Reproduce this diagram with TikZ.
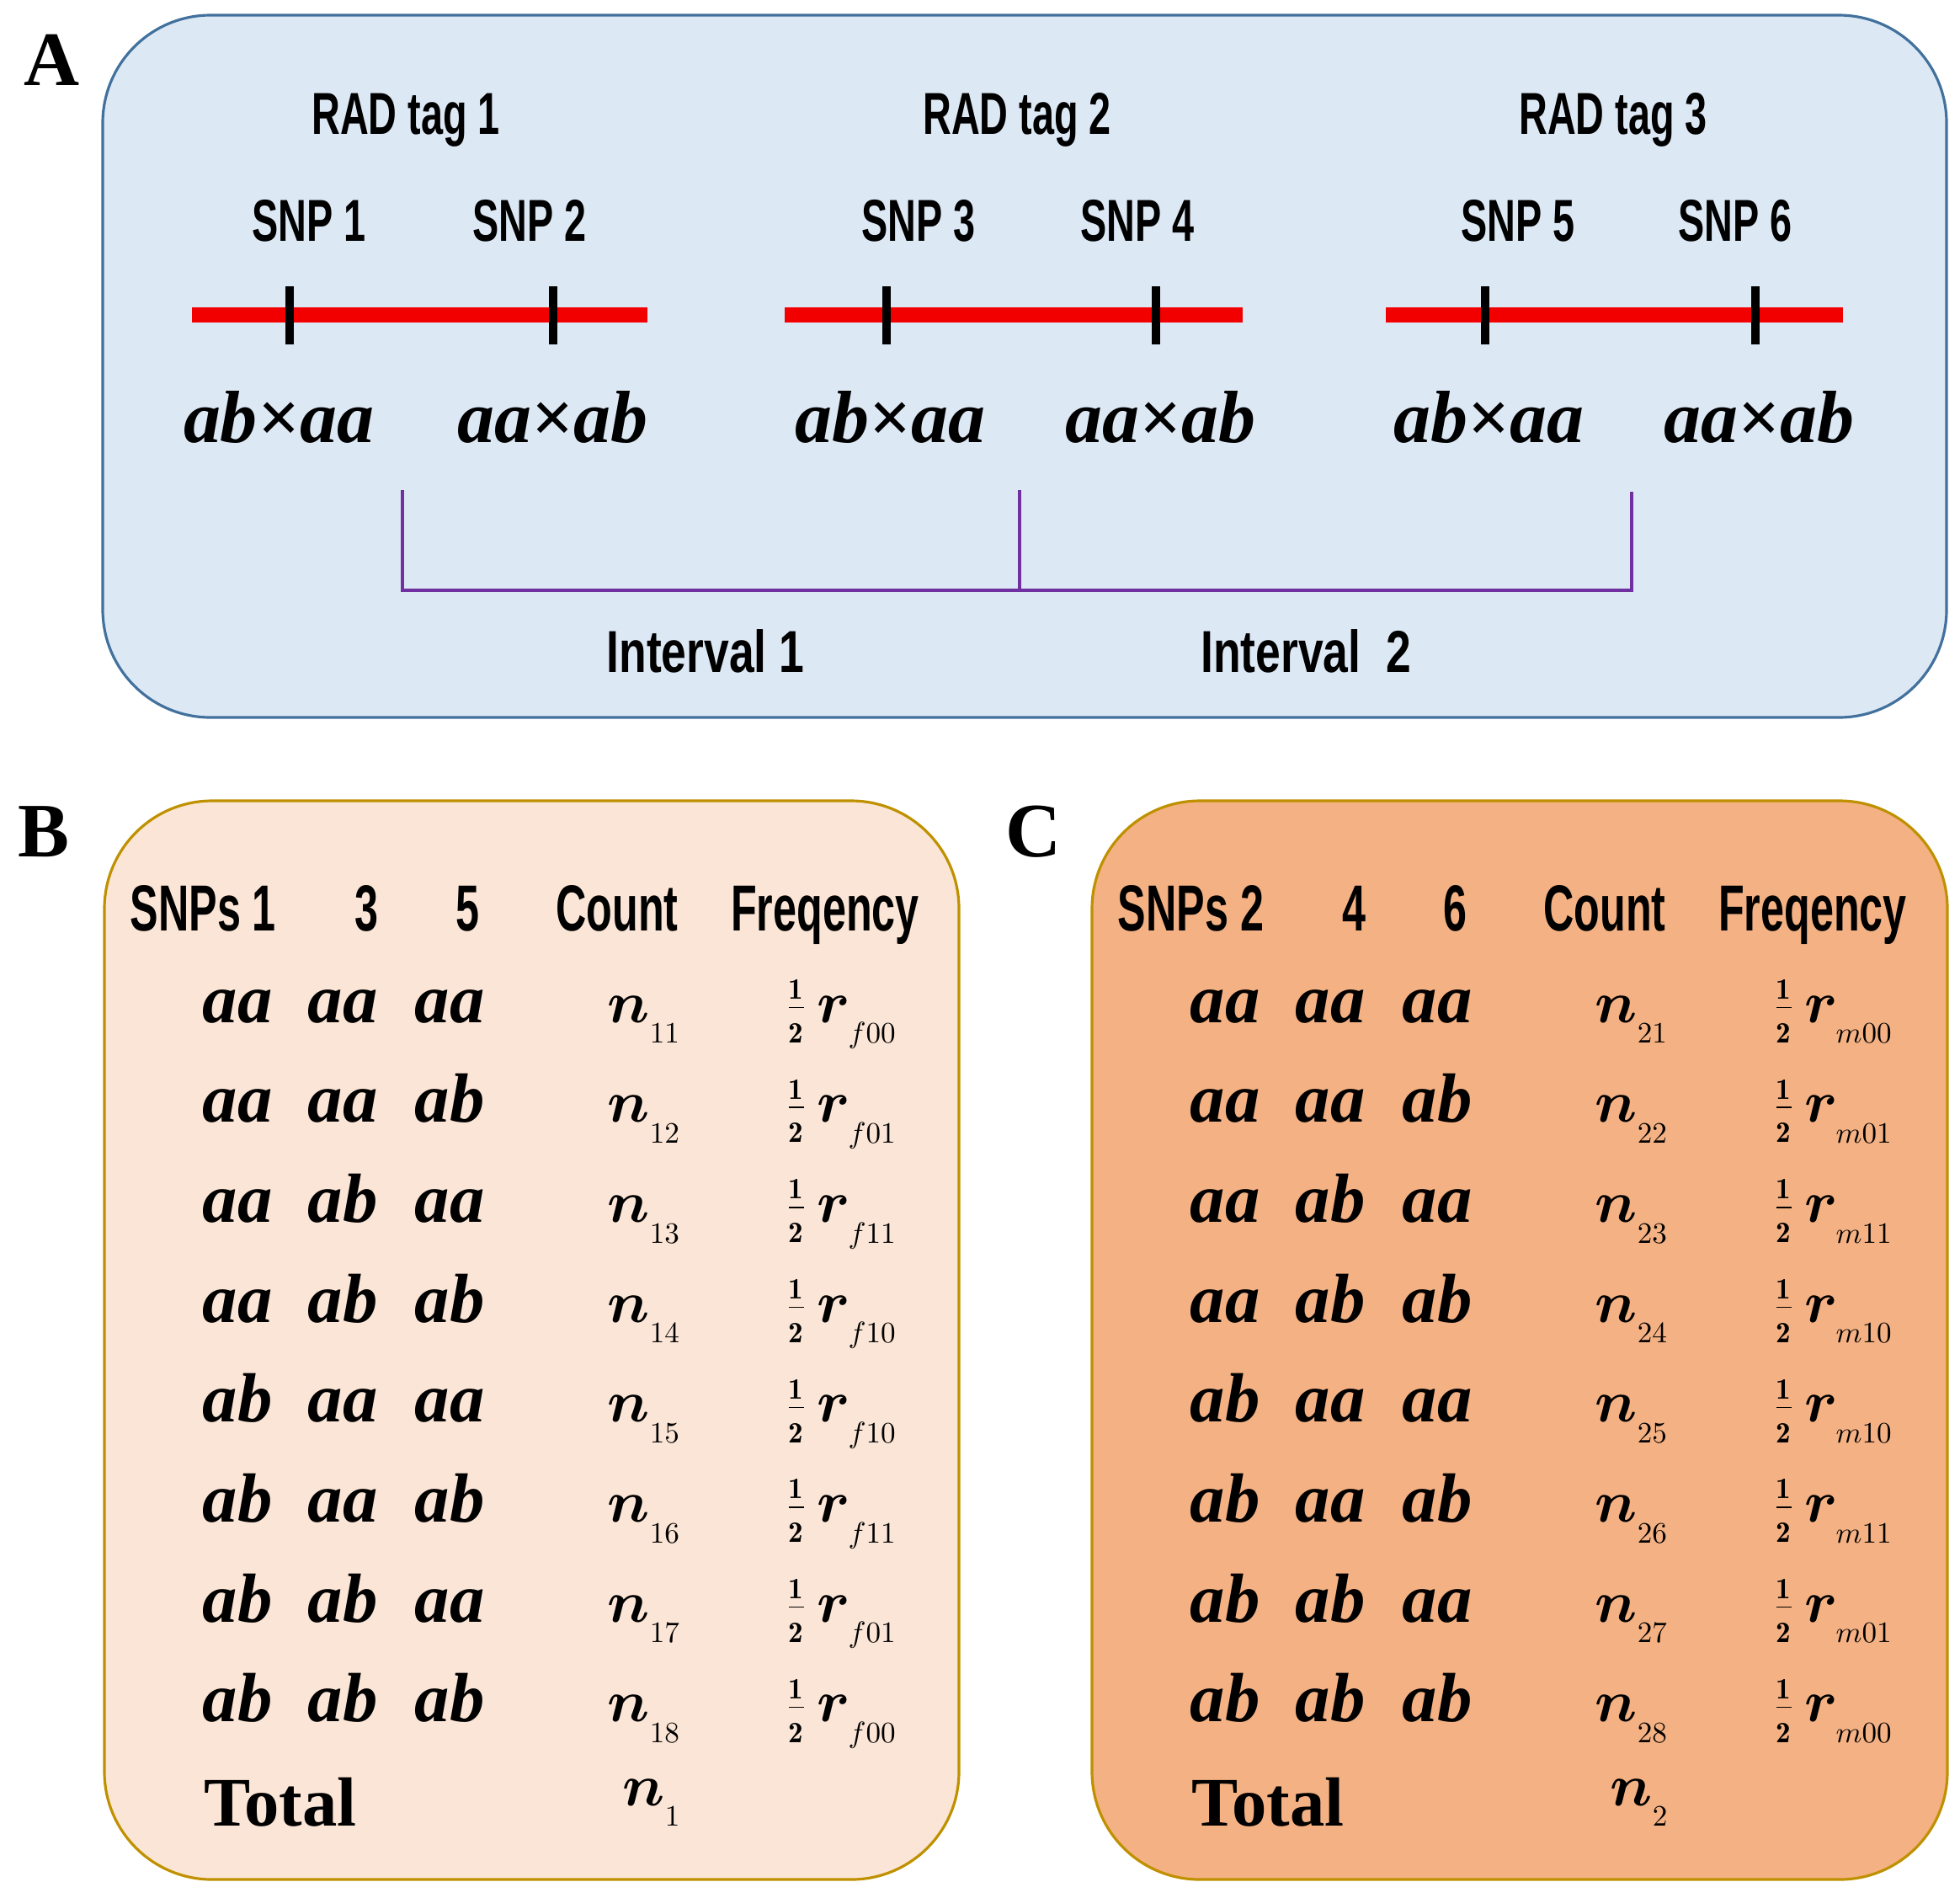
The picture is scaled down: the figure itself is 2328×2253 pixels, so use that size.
\RequirePackage{fix-cm}
\documentclass[tikz,border=0pt]{standalone}
\usepackage{bm}
\usepackage{fontspec}
\newfontfamily\tms{Liberation Serif}
\newfontfamily\cndA[FakeStretch=0.665]{Liberation Sans}
\newfontfamily\cndH[FakeStretch=0.65]{Liberation Sans}
\newfontfamily\cndI[FakeStretch=0.76]{Liberation Sans}
\definecolor{afill}{HTML}{DDE8F5}
\definecolor{aline}{HTML}{41719C}
\definecolor{bfill}{HTML}{FBE5D6}
\definecolor{cfill}{HTML}{F4B183}
\definecolor{gline}{HTML}{BF9000}
\definecolor{barred}{HTML}{F20000}
\definecolor{brpurple}{HTML}{7030A0}
\newcommand{\lowsub}[1]{\raisebox{-4pt}{$\scriptscriptstyle #1$}}
\newcommand{\halfb}{\frac{\scriptscriptstyle\mathbf{1}}{\scriptscriptstyle\mathbf{2}}}
\begin{document}
\begin{tikzpicture}[x=0.01cm,y=-0.01cm,
  panellbl/.style={font=\tms\bfseries\fontsize{26}{30}\selectfont, anchor=base, inner sep=0pt},
  radlbl/.style={font=\cndA\bfseries\fontsize{20}{24}\selectfont, anchor=base, inner sep=0pt},
  intlbl/.style={font=\cndI\bfseries\fontsize{20}{24}\selectfont, anchor=base, inner sep=0pt},
  hdr/.style={font=\cndH\bfseries\fontsize{22}{26}\selectfont, anchor=base, inner sep=0pt},
  geno/.style={font=\tms\bfseries\itshape\fontsize{25}{30}\selectfont, anchor=base, inner sep=0pt},
  cell/.style={font=\tms\bfseries\itshape\fontsize{23.5}{28}\selectfont, anchor=base, inner sep=0pt},
  totl/.style={font=\tms\bfseries\fontsize{23.5}{28}\selectfont, anchor=base west, inner sep=0pt},
  mth/.style={font=\fontsize{20}{24}\selectfont, anchor=base west, inner sep=0pt},
  redbar/.style={draw=barred, line width=5pt},
  snptick/.style={draw=black, line width=2.7pt},
  bracket/.style={draw=brpurple, line width=1.4pt},
  panelbox/.style={line width=0.9pt, rounded corners=1.28cm}
]
\useasboundingbox (0,0) rectangle (2328,2253);

% ---------- Panel A ----------
\draw[panelbox, draw=aline, fill=afill] (122,18) rectangle (2312,852);
\node[panellbl] (lblA) at (62,101) {A};

\node[radlbl] (rad1) at (482,159) {RAD tag 1};
\node[radlbl] (rad2) at (1208,159) {RAD tag 2};
\node[radlbl] (rad3) at (1916,159) {RAD tag 3};

\foreach \i/\xx in {1/367,2/629,3/1091,4/1351,5/1803,6/2061}
  \node[radlbl] (snp\i) at (\xx,286) {SNP \i};

\coordinate (l1a) at (228,374);  \coordinate (l1b) at (769,374);
\coordinate (l2a) at (932,374);  \coordinate (l2b) at (1476,374);
\coordinate (l3a) at (1646,374); \coordinate (l3b) at (2189,374);
\draw[redbar] (l1a) -- (l1b);
\draw[redbar] (l2a) -- (l2b);
\draw[redbar] (l3a) -- (l3b);

\foreach \i/\xx in {1/344,2/657,3/1053,4/1373,5/1764,6/2085}{
  \coordinate (t\i a) at (\xx,340);
  \coordinate (t\i b) at (\xx,409);
  \draw[snptick] (t\i a) -- (t\i b);
}

\node[geno] (g1) at (331,525) {ab×aa};
\node[geno] (g2) at (656,525) {aa×ab};
\node[geno] (g3) at (1057,525) {ab×aa};
\node[geno] (g4) at (1378,525) {aa×ab};
\node[geno] (g5) at (1768,525) {ab×aa};
\node[geno] (g6) at (2089,525) {aa×ab};

\coordinate (br1t) at (478,582);
\coordinate (br1b) at (478,701);
\coordinate (br2t) at (1211,582);
\coordinate (br2b) at (1211,701);
\coordinate (br3t) at (1938,584);
\coordinate (br3b) at (1938,701);
\draw[bracket] (br1t) -- (br1b) -- (br3b) -- (br3t);
\draw[bracket] (br2t) -- (br2b);

\node[intlbl] (int1) at (838,798) {Interval 1};
\node[intlbl] (int2) at (1551,798) {Interval\ \ 2};

% ---------- Panels B and C ----------
\draw[panelbox, draw=gline, fill=bfill] (124,951) rectangle (1139,2232);
\draw[panelbox, draw=gline, fill=cfill] (1297,951) rectangle (2313,2232);
\node[panellbl] (lblB) at (52,1017) {B};
\node[panellbl] (lblC) at (1227,1017) {C};

\foreach \p/\dx/\s/\ha/\hb/\hc/\fl in {b/0/1/1/3/5/f, c/1173/2/2/4/6/m}{
  \node[hdr, anchor=base west] (\p H1) at ({154+\dx},1105) {SNPs \ha};
  \node[hdr] (\p H2) at ({435+\dx},1105) {\hb};
  \node[hdr] (\p H3) at ({555+\dx},1105) {\hc};
  \node[hdr] (\p HC) at ({733+\dx},1105) {Count};
  \node[hdr] (\p HF) at ({980+\dx},1105) {Freqency};
  \foreach \ga/\gb/\gc/\frq [count=\k] in {aa/aa/aa/00, aa/aa/ab/01, aa/ab/aa/11, aa/ab/ab/10, ab/aa/aa/10, ab/aa/ab/11, ab/ab/aa/01, ab/ab/ab/00}{
    \pgfmathsetmacro\yy{1214+118.7*(\k-1)}
    \node[cell] (\p A\k) at ({282+\dx},\yy) {\ga};
    \node[cell] (\p B\k) at ({407+\dx},\yy) {\gb};
    \node[cell] (\p C\k) at ({534+\dx},\yy) {\gc};
    \node[mth] (\p N\k) at ({721+\dx},\yy) {$\bm{n}_{\lowsub{\s\k}}$};
    \node[mth] (\p F\k) at ({932+\dx},\yy) {$\halfb\,\bm{r}_{\lowsub{\fl\frq}}$};
  }
  \node[totl] (\p T) at ({242+\dx},2168) {Total};
  \node[mth] (\p TN) at ({739+\dx},2144) {$\bm{n}_{\lowsub{\s}}$};
}
\end{tikzpicture}
\end{document}
